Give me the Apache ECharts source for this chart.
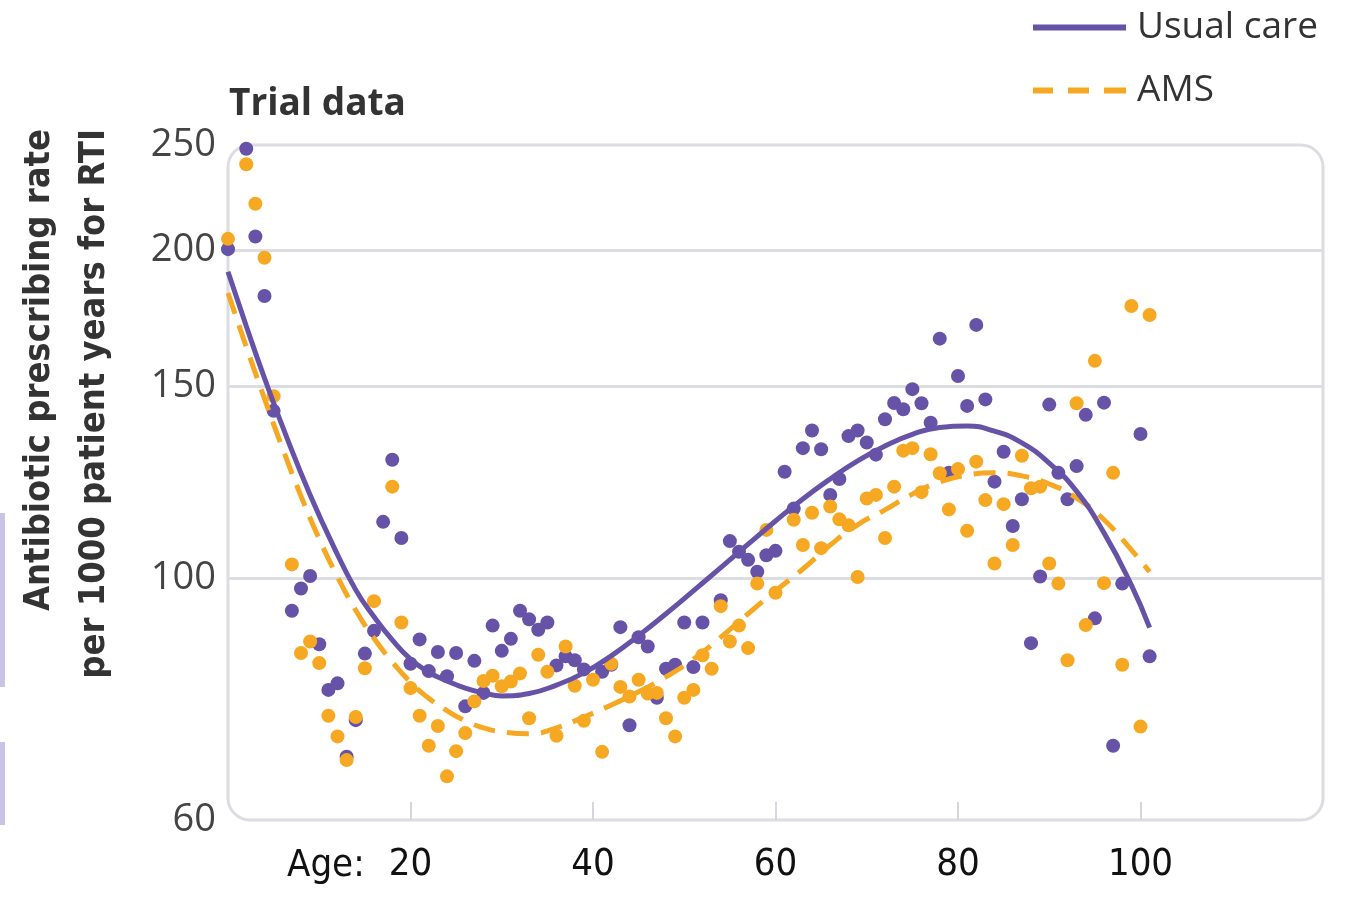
<!DOCTYPE html>
<html>
<head>
    <meta charset="UTF-8">
    <title>Trial data</title>
    <script src="https://cdn.jsdelivr.net/npm/echarts@6.0.0/dist/echarts.min.js"></script>
    <style>
        * { margin: 0; padding: 0; }
        body { background: #fff; }
        #chart { width: 1347px; height: 908px; }
    </style>
</head>
<body>
    <div id="chart"></div>

    <script>
        // scatter: one dot per age
        const ucAge = [0, 2, 3, 4, 5, 7, 8, 9, 10, 11, 12, 13, 14, 15, 16, 17, 18, 19, 20, 21, 22, 23, 24, 25, 26, 27, 28, 29, 30,
            31, 32, 33, 34, 35, 36, 37, 38, 39, 41, 42, 43, 44, 45, 46, 47, 48, 49, 50, 51, 52, 54, 55, 56, 57, 58, 59, 60,
            61, 62, 63, 64, 65, 66, 67, 68, 69, 70, 71, 72, 73, 74, 75, 76, 77, 78, 79, 80, 81, 82, 83, 84, 85, 86, 87, 88,
            89, 90, 91, 92, 93, 94, 95, 96, 97, 98, 100, 101];
        const ucRate = [200.6, 248, 206, 181.7, 142.5, 93.4, 97.9, 100.5, 87, 79, 80.1, 68.6, 74.1, 85.3, 89.5, 112.7, 128.5, 108.9, 83.5, 87.9, 82.2, 85.6, 81.3, 85.4, 76.3, 84, 78.5, 90.5, 85.8,
            88, 93.4, 91.7, 89.7, 91.1, 83.2, 84.8, 84.1, 82.5, 82.1, 83.3, 90.2, 73.3, 88.3, 86.6, 77.7, 82.6, 83.3, 91.1, 82.9, 91.1, 95.5, 108.2, 105.8, 104, 101.4, 105, 106,
            125.3, 115.9, 131.7, 136.7, 131.4, 119.3, 123.4, 135.1, 136.7, 133.3, 129.9, 140, 144.9, 143, 149.2, 144.8, 139, 166, 125, 153.4, 144, 170.9, 146, 122.7, 130.7, 111.7, 118.2, 87.2,
            100.4, 144.4, 125, 118.2, 126.8, 141.3, 91.9, 145, 70.2, 98.9, 135.7, 84.8];

        const amsAge = [0, 2, 3, 4, 5, 7, 8, 9, 10, 11, 12, 13, 14, 15, 16, 18, 19, 20, 21, 22, 23, 24, 25, 26, 27, 28, 29, 30,
            31, 32, 33, 34, 35, 36, 37, 38, 39, 40, 41, 42, 43, 44, 45, 46, 47, 48, 49, 50, 51, 52, 53, 54, 55, 56, 57, 58, 59, 60,
            62, 63, 64, 65, 66, 67, 68, 69, 70, 71, 72, 73, 74, 75, 76, 77, 78, 79, 80, 81, 82, 83, 84, 85, 86, 87, 88,
            89, 90, 91, 92, 93, 94, 95, 96, 97, 98, 99, 100, 101];
        const amsRate = [205, 240, 220.8, 197, 147, 103, 85.4, 87.5, 83.6, 74.8, 71.6, 68.1, 74.6, 82.7, 95.3, 121.4, 91.1, 79.3, 74.8, 70.2, 73.2, 65.8, 69.4, 72.1, 77.1, 80.5, 81.4, 79.6,
            80.4, 81.8, 74.4, 85.1, 82.1, 71.7, 86.6, 79.7, 74, 80.7, 69.3, 83.5, 79.5, 77.9, 80.7, 78.4, 78.5, 74.4, 71.6, 77.7, 79, 85, 82.6, 94.3, 87.5, 90.5, 86.3, 98.9, 110.8, 97,
            113.2, 107.3, 114.9, 106.6, 116.4, 113.3, 111.9, 100.3, 118.4, 119.3, 108.9, 121.4, 131, 131.7, 120, 130, 124.9, 115.7, 126, 110.6, 128, 118, 103.2, 117, 107.3, 129.6, 121,
            121.4, 103.2, 98.9, 84.1, 144.8, 90.6, 158.4, 99, 125, 83.3, 177.9, 73.1, 174.5];

        // fitted curves
        const ucFitAge = [0, 2, 4, 6.5, 9, 11.5, 14, 16, 18, 20, 22, 24, 26, 28, 30, 33, 36, 39, 42, 45, 48, 51, 54, 57, 60,
            63, 66, 69, 72, 75, 78, 81, 84, 87, 90, 93, 96, 99, 101];
        const ucFitRate = [191.2, 170.5, 152.7, 134.3, 119.3, 107.3, 97.6, 92.2, 87.8, 84.3, 82, 80.5, 79.3, 78.5, 78, 78.4, 79.8, 81.9, 84.9, 88.6, 92.8, 97.4, 102.3, 107.5, 112.9,
            118.3, 123.4, 128.2, 132.3, 135.6, 137.6, 138, 136.5, 133.2, 127.6, 120.2, 110.1, 98.6, 90.1];
        const amsFitAge = [0, 2, 4, 6, 8, 10, 12, 14, 16, 18, 20, 22, 24, 26, 28, 30, 33, 36, 39, 42, 45, 48, 51, 54, 57, 60,
            63, 66, 69, 72, 75, 78, 81, 84, 87, 90, 93, 96, 99, 101];
        const amsFitRate = [182.8, 163.2, 146.2, 131.5, 119, 108.7, 100.3, 93.5, 88.1, 83.8, 80.3, 77.6, 75.6, 74, 72.9, 72.3, 72, 72.9, 74.6, 76.5, 78.7, 81.2, 84.3, 88.3, 92.8, 97.4,
            102, 107.3, 112, 115.6, 119.5, 122.6, 124.4, 125, 124.2, 122.1, 118.5, 113.2, 106.2, 101.4];

        const yLabels = [60, 100, 150, 200, 250];
        const yGrid = [100, 150, 200];
        const xLabels = [20, 40, 60, 80, 100];

        const PURPLE = '#6652a6';
        const ORANGE = '#f6a823';
        const narrow = "'Liberation Sans Narrow', 'DejaVu Sans Condensed', sans-serif";

        function pairs(xs, ys) {
            return xs.map((x, i) => [x, ys[i]]);
        }

        const chart = echarts.init(document.getElementById('chart'));

        const option = {
            animation: false,
            grid: { left: 228, top: 145, width: 1095, height: 675 },
            legend: {
                orient: 'vertical',
                left: 1033,
                top: 5,
                padding: 0,
                itemWidth: 93,
                itemHeight: 6,
                itemGap: 18,
                data: [
                    { name: 'Usual care', icon: 'path://M0,0H93V6H0Z' },
                    { name: 'AMS', icon: 'path://M0,0H20V6H0Z M35,0H56V6H35Z M71,0H93V6H71Z' }
                ],
                textStyle: { fontSize: 37, lineHeight: 45, color: '#333', fontFamily: 'Open Sans', padding: [0, 0, 0, 6] }
            },
            xAxis: {
                type: 'value',
                min: 0,
                max: 120,
                axisLine: { show: false },
                splitLine: { show: false },
                axisTick: {
                    show: true,
                    inside: true,
                    length: 18,
                    customValues: xLabels,
                    lineStyle: { color: '#d6d6de', width: 2 }
                },
                axisLabel: {
                    customValues: xLabels,
                    margin: 26,
                    fontSize: 38,
                    color: '#111',
                    fontFamily: narrow
                }
            },
            yAxis: {
                type: 'log',
                logBase: 10,
                min: 60,
                max: 250,
                axisLine: { show: false },
                axisTick: { show: false, customValues: yGrid },
                splitLine: { show: true, lineStyle: { color: '#dcdce3', width: 3 } },
                axisLabel: {
                    customValues: yLabels,
                    margin: 12,
                    fontSize: 38,
                    color: '#444',
                    fontFamily: 'Open Sans'
                }
            },
            graphic: [
                {
                    type: 'rect',
                    z: 0,
                    shape: { x: 228, y: 145, width: 1095, height: 675, r: 22 },
                    style: { fill: 'none', stroke: '#dcdce3', lineWidth: 3 }
                },
                {
                    type: 'text',
                    x: 229,
                    y: 86,
                    style: { text: 'Trial data', fontSize: 37, fontWeight: 'bold', fontFamily: 'Open Sans', fill: '#333' }
                },
                {
                    type: 'text',
                    x: 67,
                    y: 129,
                    rotation: Math.PI / 2,
                    style: {
                        text: 'Antibiotic prescribing rate\nper 1000 patient years for RTI',
                        fontSize: 36,
                        fontWeight: 'bold',
                        fontFamily: narrow,
                        lineHeight: 55,
                        align: 'right',
                        verticalAlign: 'middle',
                        fill: '#333'
                    }
                },
                {
                    type: 'text',
                    x: 287,
                    y: 866,
                    style: { text: 'Age:', fontSize: 38, fontFamily: narrow, fill: '#111', verticalAlign: 'middle' }
                },
                { type: 'rect', shape: { x: 0, y: 513, width: 5, height: 174 }, style: { fill: '#cbc3e5' } },
                { type: 'rect', shape: { x: 0, y: 742, width: 5, height: 83 }, style: { fill: '#cbc3e5' } }
            ],
            series: [
                {
                    name: 'Usual care',
                    type: 'line',
                    data: pairs(ucFitAge, ucFitRate),
                    smooth: true,
                    symbol: 'none',
                    z: 5,
                    lineStyle: { color: PURPLE, width: 5 },
                    itemStyle: { color: PURPLE }
                },
                {
                    name: 'AMS',
                    type: 'line',
                    data: pairs(amsFitAge, amsFitRate),
                    smooth: true,
                    symbol: 'none',
                    z: 4,
                    lineStyle: { color: ORANGE, width: 5, type: [22, 12] },
                    itemStyle: { color: ORANGE }
                },
                {
                    name: 'Usual care points',
                    type: 'scatter',
                    data: pairs(ucAge, ucRate),
                    symbolSize: 14,
                    z: 2,
                    itemStyle: { color: PURPLE, opacity: 1 }
                },
                {
                    name: 'AMS points',
                    type: 'scatter',
                    data: pairs(amsAge, amsRate),
                    symbolSize: 14,
                    z: 3,
                    itemStyle: { color: ORANGE, opacity: 1 }
                }
            ]
        };

        chart.setOption(option);
    </script>
</body>
</html>
